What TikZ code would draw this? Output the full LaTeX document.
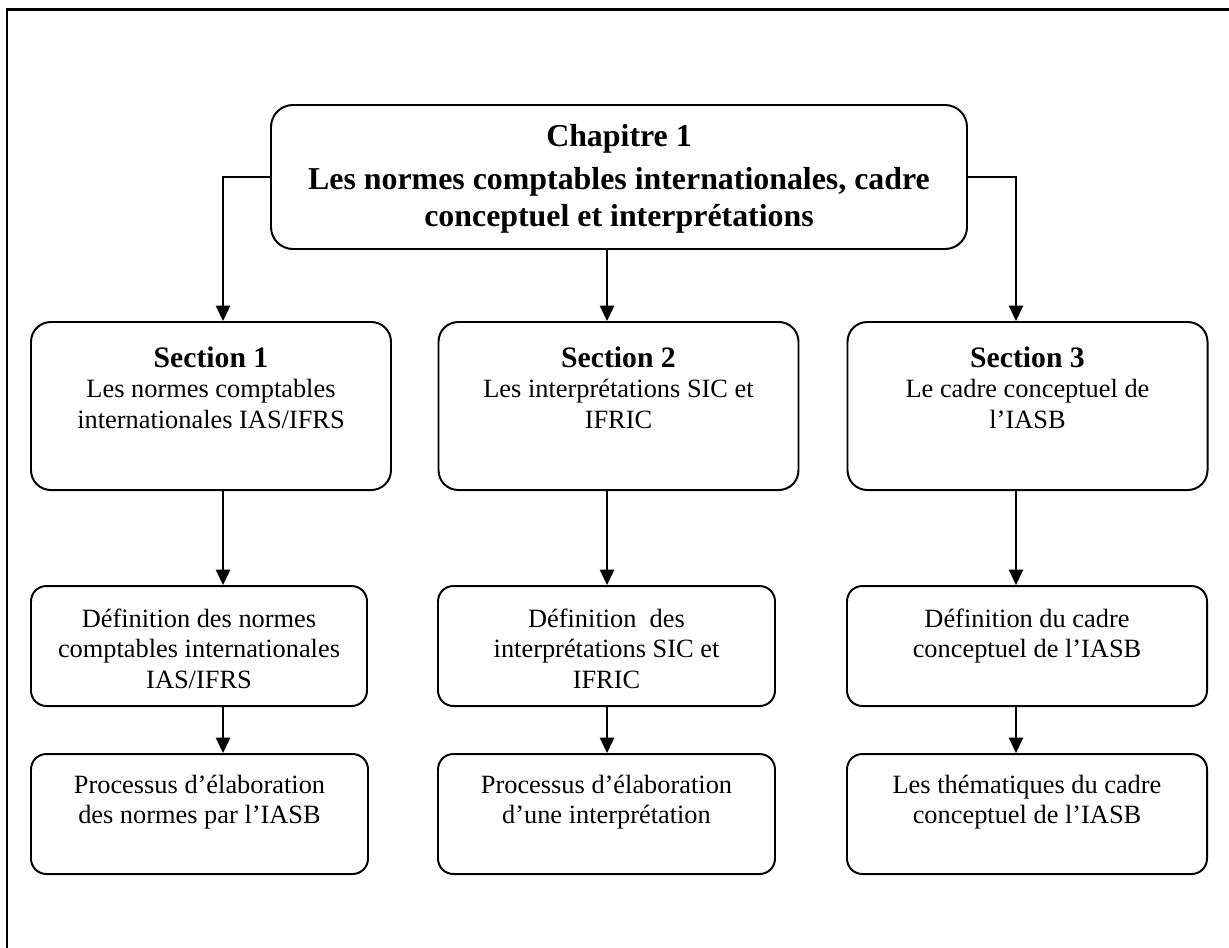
\documentclass[tikz,border=0pt]{standalone}
\usepackage{fontspec}
\setmainfont{Liberation Serif}
\usetikzlibrary{arrows.meta}
\begin{document}
\begin{tikzpicture}[x=0.455pt,y=-0.455pt,
  box/.style={draw, line width=0.9pt, inner sep=0pt},
  chapbox/.style={box, rounded corners=10pt, minimum width={696*0.455pt}, minimum height={144*0.455pt}},
  secbox/.style={box, rounded corners=9pt, minimum width={360*0.455pt}, minimum height={168*0.455pt}},
  subbox/.style={box, rounded corners=7pt, minimum height={120*0.455pt}},
  txt/.style={anchor=north, inner sep=0pt, align=center, font=\fontsize{12}{13.8}\selectfont},
  chaptxt/.style={anchor=north, inner sep=0pt, align=center, font=\fontsize{14.5}{16.8}\selectfont\bfseries},
  arr/.style={line width=0.7pt, -{Triangle[length=7pt,width=6.5pt]}},
  frameline/.style={line width=1pt}]
\useasboundingbox (0,0) rectangle (1229,947);
% frame (only top and left edges visible)
\coordinate (fr1) at (1235,9.5);
\coordinate (fr2) at (7,9.5);
\coordinate (fr3) at (7,955);
\draw[frameline] (fr1) -- (fr2) -- (fr3);

% column coordinates for connectors
\coordinate (c1) at (223,0);
\coordinate (c2) at (607,0);
\coordinate (c3) at (1016,0);

% boxes
\node[chapbox] (chap) at (619,177) {};
\node[secbox] (s1) at (211,406) {};
\node[secbox] (s2) at (618.5,406) {};
\node[secbox] (s3) at (1027.5,406) {};
\node[subbox, minimum width={336*0.455pt}] (d1) at (199,646) {};
\node[subbox, minimum width={337*0.455pt}] (d2) at (606.5,646) {};
\node[subbox, minimum width={360*0.455pt}] (d3) at (1027,646) {};
\node[subbox, minimum width={337*0.455pt}] (p1) at (199.5,814) {};
\node[subbox, minimum width={337*0.455pt}] (p2) at (606.5,814) {};
\node[subbox, minimum width={360*0.455pt}] (p3) at (1027,814) {};

% texts
\node[chaptxt] (tchap) at (619,120.5) {\strut Chapitre 1\\[2.8pt]Les normes comptables internationales, cadre\\conceptuel et interprétations};
\node[txt] (ts1) at (211,345.75) {\strut{\fontsize{13.5}{13.8}\selectfont\bfseries Section 1}\\Les normes comptables\\internationales IAS/IFRS};
\node[txt] (ts2) at (618.5,345.75) {\strut{\fontsize{13.5}{13.8}\selectfont\bfseries Section 2}\\Les interprétations SIC et\\IFRIC};
\node[txt] (ts3) at (1027.5,345.75) {\strut{\fontsize{13.5}{13.8}\selectfont\bfseries Section 3}\\Le cadre conceptuel de\\l’IASB};
\node[txt] (td1) at (199,605.75) {\strut Définition des normes\\comptables internationales\\IAS/IFRS};
\node[txt] (td2) at (606.5,605.75) {\strut Définition\ \ des\\interprétations SIC et\\IFRIC};
\node[txt] (td3) at (1027,605.75) {\strut Définition du cadre\\conceptuel de l’IASB};
\node[txt] (tp1) at (199.5,771.75) {\strut Processus d’élaboration\\des normes par l’IASB};
\node[txt] (tp2) at (606.5,771.75) {\strut Processus d’élaboration\\d’une interprétation};
\node[txt] (tp3) at (1027,771.75) {\strut Les thématiques du cadre\\conceptuel de l’IASB};

% connectors
\draw[arr] (chap.west) -| (c1 |- s1.north);
\draw[arr] (chap.south -| c2) -- (c2 |- s2.north);
\draw[arr] (chap.east) -| (c3 |- s3.north);
\draw[arr] (s1.south -| c1) -- (c1 |- d1.north);
\draw[arr] (s2.south -| c2) -- (c2 |- d2.north);
\draw[arr] (s3.south -| c3) -- (c3 |- d3.north);
\draw[arr] (d1.south -| c1) -- (c1 |- p1.north);
\draw[arr] (d2.south -| c2) -- (c2 |- p2.north);
\draw[arr] (d3.south -| c3) -- (c3 |- p3.north);
\end{tikzpicture}
\end{document}
